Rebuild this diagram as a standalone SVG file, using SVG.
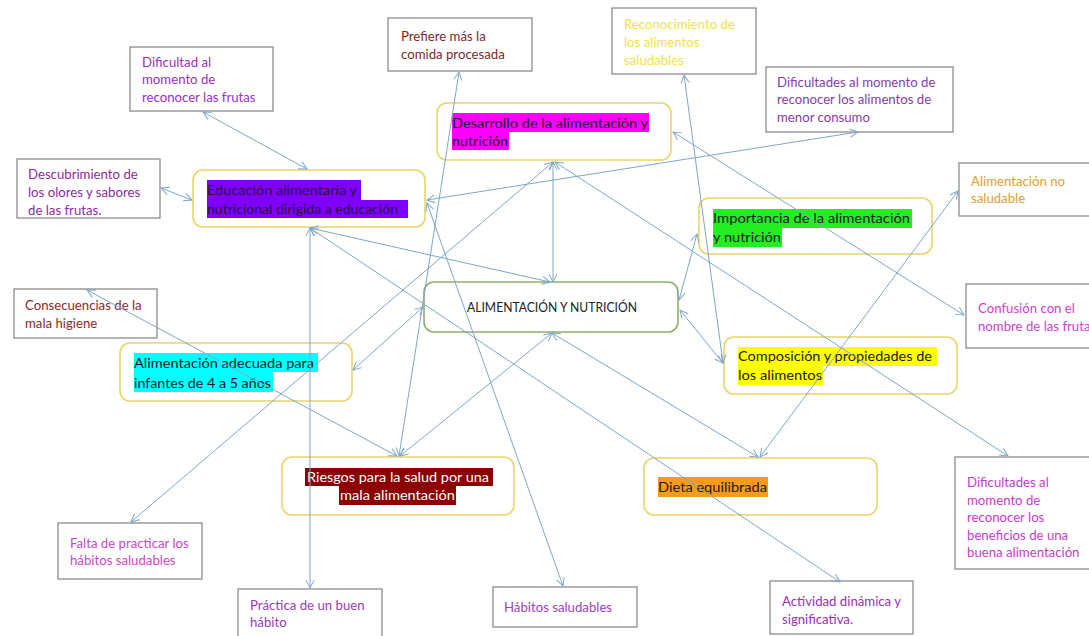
<svg xmlns="http://www.w3.org/2000/svg" width="1089" height="636" viewBox="0 0 1089 636">
<style>
.bx{fill:#fff;stroke:#8c8c8c;stroke-width:1.3}
.nd{fill:#fff;stroke:#e9d56a;stroke-width:1.6}
.ct{fill:#fff;stroke:#8fae6a;stroke-width:1.6}
.t{font-family:Lato,"Liberation Sans",sans-serif;font-size:13.2px}
.n{font-family:Lato,"Liberation Sans",sans-serif;font-size:14px;fill:#1a1a1a}
.n.w{fill:#ffffff}
.n.p{fill:#2a1040}
.cn line{stroke:#7ea6c8;stroke-width:1;marker-start:url(#ah);marker-end:url(#ah)}
</style>
<defs>
<marker id="ah" markerUnits="userSpaceOnUse" markerWidth="12" markerHeight="12" refX="9" refY="5" orient="auto-start-reverse">
<path d="M1,1 L9,5 L1,9" fill="none" stroke="#7ea6c8" stroke-width="1"/>
</marker>
<clipPath id="cl5"><rect x="17" y="159" width="143" height="58"/></clipPath>
</defs>
<rect width="1089" height="636" fill="#fff"/>

<g id="n-dificultad-frutas"><rect class="bx" x="130" y="47" width="143" height="64"/><text class="t" fill="#9b2fc0"><tspan x="142" y="67">Dificultad al</tspan><tspan x="142" y="84">momento de</tspan><tspan x="142" y="102">reconocer las frutas</tspan></text></g>
<g id="n-prefiere"><rect class="bx" x="388" y="18" width="144" height="53"/><text class="t" fill="#7b2a2a"><tspan x="401" y="41">Prefiere más la</tspan><tspan x="401" y="59">comida procesada</tspan></text></g>
<g id="n-reconocimiento"><rect class="bx" x="612" y="8" width="144" height="66"/><text class="t" fill="#f0e24a"><tspan x="624" y="29">Reconocimiento de</tspan><tspan x="624" y="47">los alimentos</tspan><tspan x="624" y="65">saludables</tspan></text></g>
<g id="n-dificultades-menor"><rect class="bx" x="766" y="67" width="187" height="65"/><text class="t" fill="#8a3aa8"><tspan x="777" y="87">Dificultades al momento de</tspan><tspan x="777" y="104">reconocer los alimentos de</tspan><tspan x="777" y="122">menor consumo</tspan></text></g>
<g id="n-descubrimiento"><rect class="bx" x="17" y="159" width="143" height="59"/><text class="t" fill="#8e2a9c" clip-path="url(#cl5)"><tspan x="28" y="179">Descubrimiento de</tspan><tspan x="28" y="197">los olores y sabores</tspan><tspan x="28" y="215">de las frutas.</tspan></text></g>
<g id="n-no-saludable"><rect class="bx" x="959" y="163" width="140" height="53"/><text class="t" fill="#e0a030"><tspan x="971" y="186">Alimentación no</tspan><tspan x="971" y="203">saludable</tspan></text></g>
<g id="n-consecuencias"><rect class="bx" x="14" y="289" width="143" height="49"/><text class="t" fill="#8b2a2a"><tspan x="25" y="310">Consecuencias de la</tspan><tspan x="25" y="328">mala higiene</tspan></text></g>
<g id="n-confusion"><rect class="bx" x="966" y="284" width="140" height="64"/><text class="t" fill="#d040d0"><tspan x="978" y="313">Confusión con el</tspan><tspan x="978" y="331">nombre de las frutas</tspan></text></g>
<g id="n-falta"><rect class="bx" x="58" y="523" width="144" height="56"/><text class="t" fill="#c847c8"><tspan x="70" y="548">Falta de practicar los</tspan><tspan x="70" y="565">hábitos saludables</tspan></text></g>
<g id="n-practica"><rect class="bx" x="238" y="589" width="144" height="55"/><text class="t" fill="#9a3ab8"><tspan x="250" y="610">Práctica de un buen</tspan><tspan x="250" y="627">hábito</tspan></text></g>
<g id="n-habitos"><rect class="bx" x="493" y="587" width="144" height="40"/><text class="t" fill="#a040c0" x="504" y="612">Hábitos saludables</text></g>
<g id="n-actividad"><rect class="bx" x="770" y="581" width="143" height="53"/><text class="t" fill="#9a30b0"><tspan x="782" y="606">Actividad dinámica y</tspan><tspan x="782" y="624">significativa.</tspan></text></g>
<g id="n-dificultades-beneficios"><rect class="bx" x="955" y="457" width="140" height="112"/><text class="t" fill="#c83acb"><tspan x="967" y="487">Dificultades al</tspan><tspan x="967" y="505">momento de</tspan><tspan x="967" y="522">reconocer los</tspan><tspan x="967" y="540">beneficios de una</tspan><tspan x="967" y="557">buena alimentación</tspan></text></g>

<g id="n-desarrollo"><rect class="nd" x="437" y="103" width="234" height="57" rx="10"/><rect x="452" y="113" width="197" height="19" fill="#ff00ff"/><rect x="452" y="132" width="57" height="18" fill="#ff00ff"/><text class="n"><tspan x="452" y="128" textLength="196" lengthAdjust="spacingAndGlyphs">Desarrollo de la alimentación y</tspan><tspan x="452" y="146" textLength="56" lengthAdjust="spacingAndGlyphs">nutrición</tspan></text></g>
<g id="n-educacion"><rect class="nd" x="193" y="170" width="232" height="57" rx="10"/><rect x="207" y="180" width="154" height="20" fill="#8000ff"/><rect x="207" y="200" width="201" height="18" fill="#8000ff"/><text class="n p"><tspan x="207" y="195" textLength="150" lengthAdjust="spacingAndGlyphs">Educación alimentaria y</tspan><tspan x="207" y="214" textLength="191" lengthAdjust="spacingAndGlyphs">nutricional dirigida a educación</tspan></text></g>
<g id="n-importancia"><rect class="nd" x="699" y="198" width="233" height="56" rx="10"/><rect x="713" y="209" width="199" height="19" fill="#22ee22"/><rect x="713" y="228" width="69" height="19" fill="#22ee22"/><text class="n"><tspan x="713" y="223" textLength="197" lengthAdjust="spacingAndGlyphs">Importancia de la alimentación</tspan><tspan x="713" y="242" textLength="68" lengthAdjust="spacingAndGlyphs">y nutrición</tspan></text></g>
<g id="n-central"><rect class="ct" x="424" y="282" width="254" height="50" rx="10"/><text x="552" y="312" text-anchor="middle" font-family="Lato, 'Liberation Sans', sans-serif" font-size="12.5" fill="#222" textLength="170" lengthAdjust="spacingAndGlyphs">ALIMENTACIÓN Y NUTRICIÓN</text></g>
<g id="n-adecuada"><rect class="nd" x="120" y="343" width="232" height="58" rx="10"/><rect x="134" y="353" width="184" height="19" fill="#00ffff"/><rect x="134" y="372" width="139" height="20" fill="#00ffff"/><text class="n"><tspan x="134" y="368" textLength="180" lengthAdjust="spacingAndGlyphs">Alimentación adecuada para</tspan><tspan x="134" y="388" textLength="137" lengthAdjust="spacingAndGlyphs">infantes de 4 a 5 años</tspan></text></g>
<g id="n-composicion"><rect class="nd" x="724" y="337" width="233" height="57" rx="10"/><rect x="738" y="347" width="199" height="19" fill="#ffff00"/><rect x="738" y="366" width="85" height="19" fill="#ffff00"/><text class="n"><tspan x="738" y="361" textLength="194" lengthAdjust="spacingAndGlyphs">Composición y propiedades de</tspan><tspan x="738" y="380" textLength="84" lengthAdjust="spacingAndGlyphs">los alimentos</tspan></text></g>
<g id="n-riesgos"><rect class="nd" x="282" y="457" width="232" height="58" rx="10"/><rect x="305" y="468" width="188" height="18" fill="#8b0000"/><rect x="339" y="486" width="117" height="19" fill="#8b0000"/><text class="n w"><tspan x="307" y="482" textLength="182" lengthAdjust="spacingAndGlyphs">Riesgos para la salud por una</tspan><tspan x="340" y="500" textLength="115" lengthAdjust="spacingAndGlyphs">mala alimentación</tspan></text></g>
<g id="n-dieta"><rect class="nd" x="644" y="458" width="233" height="57" rx="10"/><rect x="658" y="477" width="110" height="20" fill="#f79a1e"/><text class="n" x="658" y="492" textLength="109" lengthAdjust="spacingAndGlyphs">Dieta equilibrada</text></g>

<g id="connectors" class="cn">
<line x1="203" y1="112" x2="307" y2="169"/>
<line x1="161" y1="188" x2="192" y2="200"/>
<line x1="427" y1="200" x2="858" y2="132"/>
<line x1="459" y1="72" x2="399" y2="456"/>
<line x1="87" y1="290" x2="397" y2="456"/>
<line x1="552" y1="333" x2="400" y2="456"/>
<line x1="552" y1="333" x2="758" y2="457"/>
<line x1="958" y1="191" x2="760" y2="457"/>
<line x1="310" y1="228" x2="840" y2="582"/>
<line x1="310" y1="228" x2="550" y2="282"/>
<line x1="553" y1="162" x2="553" y2="282"/>
<line x1="310" y1="228" x2="310" y2="588"/>
<line x1="427" y1="203" x2="563" y2="586"/>
<line x1="353" y1="370" x2="423" y2="307"/>
<line x1="553" y1="162" x2="131" y2="522"/>
<line x1="673" y1="132" x2="964" y2="315"/>
<line x1="555" y1="162" x2="1008" y2="456"/>
<line x1="684" y1="75" x2="723" y2="363"/>
<line x1="679" y1="300" x2="697" y2="234"/>
<line x1="680" y1="310" x2="723" y2="363"/>
</g>
</svg>
